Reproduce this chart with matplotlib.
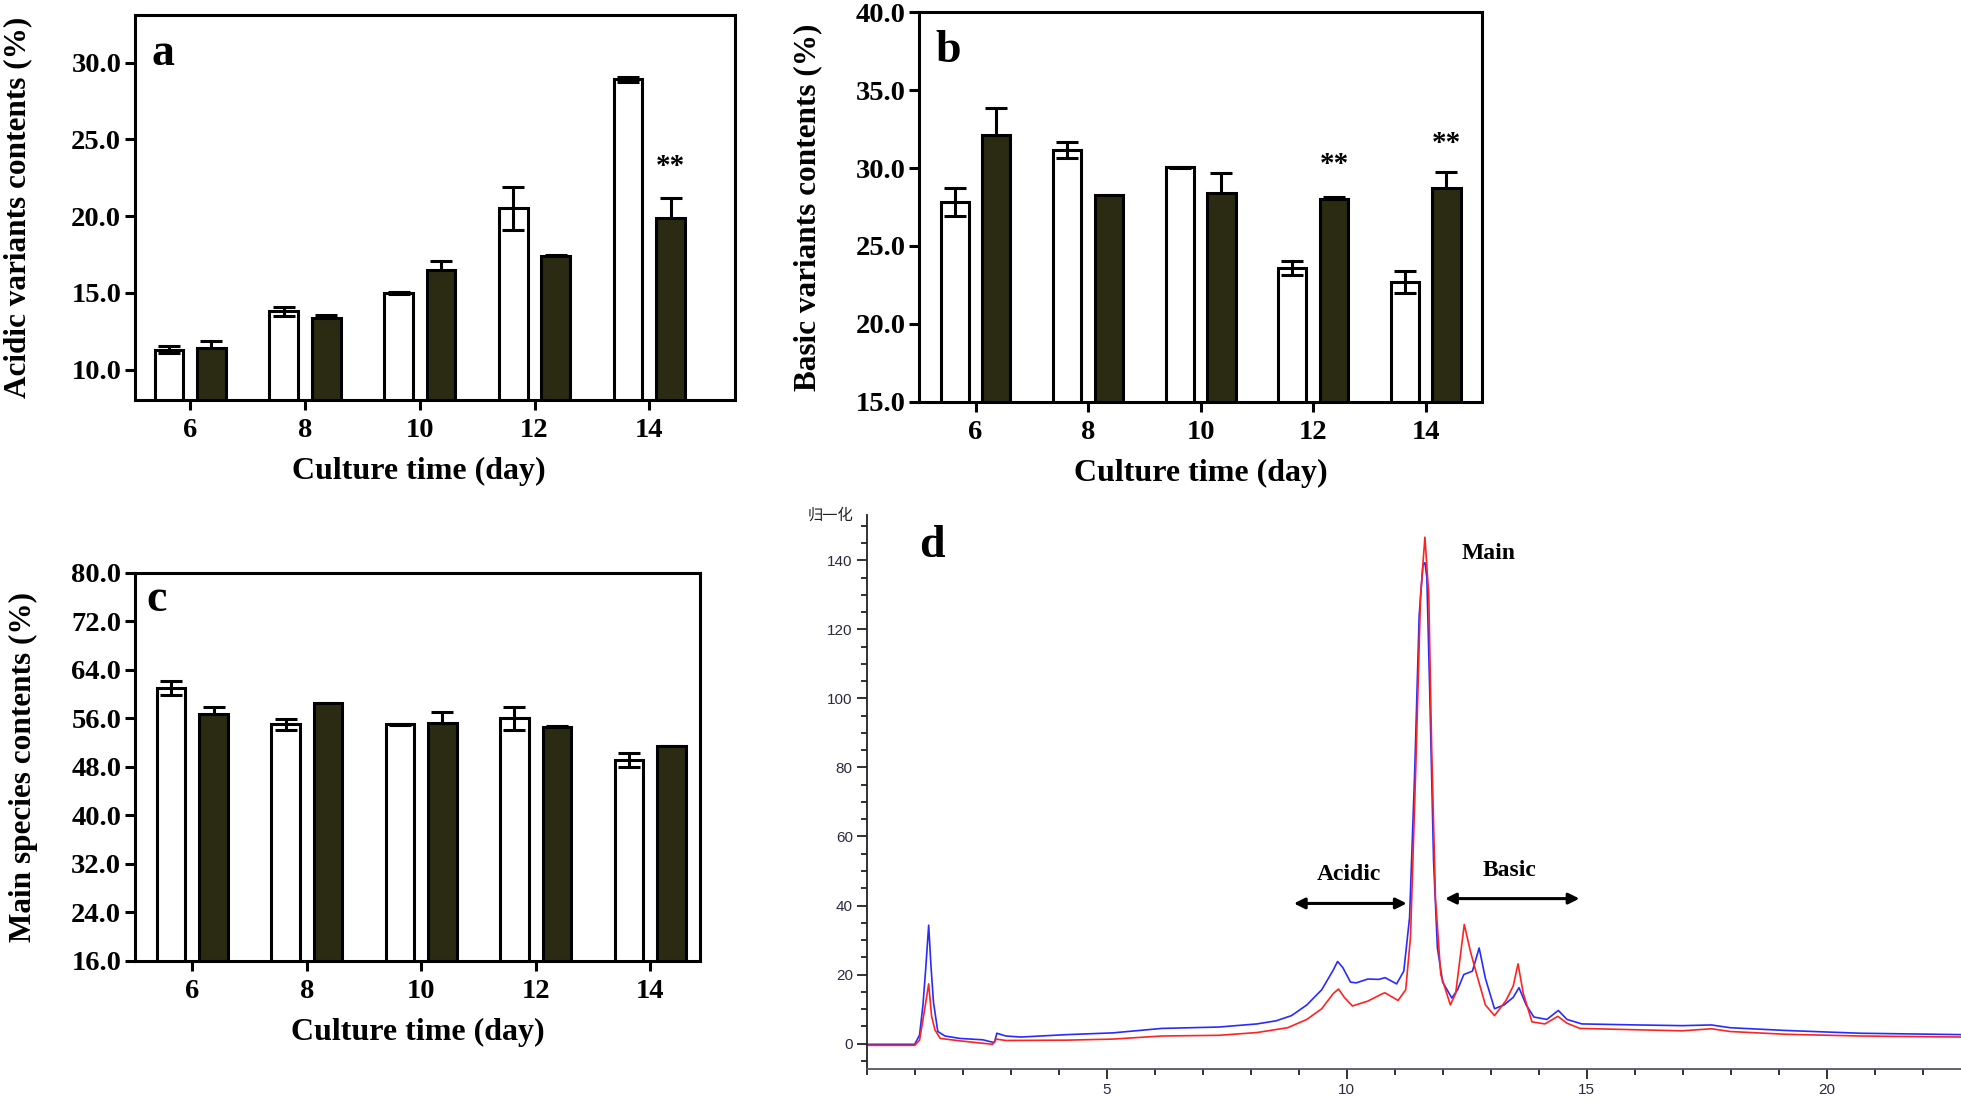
import numpy as np
import matplotlib.pyplot as plt
from matplotlib.ticker import MultipleLocator, FixedLocator

# Bar data
days = ["6", "8", "10", "12", "14"]

acidic_ctrl = [11.3, 13.8, 15.0, 20.5, 28.9]
acidic_ctrl_err = [0.25, 0.28, 0.05, 1.4, 0.15]
acidic_trt = [11.4, 13.35, 16.5, 17.4, 19.9]
acidic_trt_err = [0.43, 0.2, 0.6, 0.05, 1.25]

basic_ctrl = [27.8, 31.15, 30.05, 23.6, 22.7]
basic_ctrl_err = [0.9, 0.53, 0.05, 0.45, 0.7]
basic_trt = [32.1, 28.25, 28.4, 28.0, 28.75]
basic_trt_err = [1.75, 0.05, 1.3, 0.15, 1.0]

main_ctrl = [61.0, 55.0, 55.0, 56.0, 49.1]
main_ctrl_err = [1.1, 0.9, 0.05, 1.9, 1.1]
main_trt = [56.7, 58.5, 55.2, 54.6, 51.4]
main_trt_err = [1.2, 0.1, 1.9, 0.1, 0.1]

# significance marks: (day index, y)
acidic_stars = [(4, 23.2)]
basic_stars = [(3, 30.2), (4, 31.6)]

# Chromatogram traces (time in min, normalized signal)
blue_t = [0, 1.0, 1.1, 1.17, 1.23, 1.29, 1.34, 1.39, 1.48, 1.63,
          1.94, 2.42, 2.62, 2.66, 2.71, 2.9, 3.21, 4.17, 5.12, 6.15,
          7.34, 8.13, 8.53, 8.85, 9.17, 9.48, 9.72, 9.81, 9.92, 10.08,
          10.2, 10.44, 10.67, 10.8, 11.04, 11.19, 11.31, 11.42, 11.51, 11.59,
          11.63, 11.67, 11.73, 11.81, 11.89, 12.0, 12.19, 12.31, 12.44, 12.62,
          12.76, 12.89, 13.08, 13.28, 13.47, 13.59, 13.74, 13.9, 14.17, 14.41,
          14.59, 14.9, 16.06, 16.99, 17.6, 17.99, 19.15, 20.7, 22.8]
blue_v = [-0.2, -0.2, 2.5, 11, 22, 34.3, 22, 12, 3.5, 2.2,
          1.5, 1.1, 0.4, 0.3, 3.0, 2.2, 1.9, 2.6, 3.1, 4.4,
          4.8, 5.7, 6.6, 8.1, 11.2, 15.6, 21.3, 23.8, 22, 17.8,
          17.6, 18.7, 18.6, 19.1, 17.3, 21, 36.5, 80, 124, 138.7,
          139.3, 135, 102, 53, 27.7, 17.8, 13.2, 15.6, 20, 21,
          27.7, 18.9, 10.1, 11.2, 13.4, 16.2, 11.2, 7.7, 7.0, 9.6,
          7.0, 5.7, 5.4, 5.2, 5.4, 4.6, 3.8, 3.0, 2.6]

red_t = [0, 1.0, 1.1, 1.17, 1.23, 1.29, 1.35, 1.42, 1.53, 1.94,
         2.62, 2.7, 2.9, 4.17, 5.12, 6.15, 7.34, 8.13, 8.77, 9.17,
         9.48, 9.72, 9.83, 9.95, 10.12, 10.44, 10.75, 10.8, 11.07, 11.23,
         11.33, 11.44, 11.54, 11.63, 11.71, 11.77, 11.85, 11.96, 12.16, 12.27,
         12.45, 12.58, 12.72, 12.89, 13.08, 13.32, 13.47, 13.57, 13.68, 13.86,
         14.13, 14.4, 14.59, 14.86, 16.06, 16.99, 17.6, 17.99, 19.15, 20.7,
         22.8]
red_v = [-0.5, -0.5, 1.0, 6.8, 12, 17.3, 8, 4, 1.5, 0.8,
         -0.2, 1.3, 0.9, 1.0, 1.3, 2.2, 2.4, 3.2, 4.6, 7,
         10.1, 14.5, 15.8, 13.4, 10.9, 12.3, 14.5, 14.7, 12.5, 15.6,
         31, 80, 130, 146.7, 130, 86, 42, 20, 11.2, 14.5,
         34.5, 26.6, 19.5, 11.2, 8.1, 12.5, 16.7, 23.1, 14.5, 6.3,
         5.7, 7.9, 5.9, 4.4, 4.0, 3.7, 4.3, 3.5, 2.7, 2.2,
         1.9]

SERIF = "Liberation Serif"
DARK = "#2b2a12"
BAR_W = 0.25
OFF = 0.185


def bar_panel(ax, ctrl, ctrl_err, trt, trt_err, ylim, yticks, ylabel, letter,
              letter_xy, xlim, stars, xlabel_x=0.5):
    x = np.arange(len(days))
    # white bars, error bars drawn on top
    ax.bar(x - OFF, ctrl, BAR_W, color="white", edgecolor="black",
           linewidth=2.2, zorder=2)
    ax.errorbar(x - OFF, ctrl, yerr=ctrl_err, fmt="none", ecolor="black",
                elinewidth=2.2, capsize=8, capthick=2.2, zorder=3)
    # dark bars, lower half of error bar hidden behind the bar
    ax.errorbar(x + OFF, trt, yerr=trt_err, fmt="none", ecolor="black",
                elinewidth=2.2, capsize=8, capthick=2.2, zorder=1)
    ax.bar(x + OFF, trt, BAR_W, color=DARK, edgecolor="black",
           linewidth=2.2, zorder=2)

    for i, y in stars:
        ax.text(x[i] + OFF, y, "**", ha="center", va="center",
                fontsize=21, fontweight="bold", family=SERIF)

    ax.set_ylim(*ylim)
    ax.set_xlim(*xlim)
    ax.set_yticks(yticks)
    ax.set_yticklabels([f"{t:.1f}" for t in yticks])
    ax.set_xticks(x)
    ax.set_xticklabels(days)
    for lab in ax.get_xticklabels() + ax.get_yticklabels():
        lab.set_fontfamily(SERIF)
        lab.set_fontweight("bold")
        lab.set_fontsize(20.5)
    ax.tick_params(direction="out", length=7, width=2.2, pad=3)
    ax.tick_params(axis="x", pad=6)
    for s in ax.spines.values():
        s.set_linewidth(2.2)

    ax.set_ylabel(ylabel, fontsize=22.5, fontweight="bold", family=SERIF)
    ax.yaxis.set_label_coords(-0.172, 0.5)
    ax.set_xlabel("Culture time (day)", fontsize=23, fontweight="bold",
                  family=SERIF)
    ax.xaxis.set_label_coords(xlabel_x, -0.148)
    ax.text(letter_xy[0], letter_xy[1], letter, transform=ax.transAxes,
            ha="left", va="center", fontsize=33, fontweight="bold",
            family=SERIF)


fig = plt.figure(figsize=(19.61, 11.02), dpi=100)

ax_a = fig.add_axes([0.0689, 0.6368, 0.3061, 0.3496])
bar_panel(ax_a, acidic_ctrl, acidic_ctrl_err, acidic_trt, acidic_trt_err,
          (8, 33.1), [10, 15, 20, 25, 30], "Acidic variants contents (%)",
          "a", (0.028, 0.9), (-0.48, 4.75), acidic_stars, xlabel_x=0.473)

ax_b = fig.add_axes([0.4688, 0.6356, 0.2869, 0.3531])
bar_panel(ax_b, basic_ctrl, basic_ctrl_err, basic_trt, basic_trt_err,
          (15, 40), [15, 20, 25, 30, 35, 40], "Basic variants contents (%)",
          "b", (0.028, 0.9), (-0.5, 4.5), basic_stars)

ax_c = fig.add_axes([0.0689, 0.1283, 0.2883, 0.3518])
bar_panel(ax_c, main_ctrl, main_ctrl_err, main_trt, main_trt_err,
          (16, 80), [16, 24, 32, 40, 48, 56, 64, 72, 80],
          "Main species contents (%)", "c", (0.02, 0.93), (-0.5, 4.44), [])

# Panel d: chromatogram
ax_d = fig.add_axes([0.442, 0.0295, 0.558, 0.5028])
ax_d.plot(blue_t, blue_v, color="#2a2aff", linewidth=1.2)
ax_d.plot(red_t, red_v, color="#ff2222", linewidth=1.2)
ax_d.set_xlim(0, 22.8)
ax_d.set_ylim(-7.5, 153)
ax_d.spines["top"].set_visible(False)
ax_d.spines["right"].set_visible(False)
ax_d.spines["left"].set_color("#222222")
ax_d.spines["bottom"].set_color("#55556a")
ax_d.spines["left"].set_linewidth(1.3)
ax_d.spines["bottom"].set_linewidth(1.3)
ax_d.xaxis.set_major_locator(FixedLocator([5, 10, 15, 20]))
ax_d.xaxis.set_minor_locator(MultipleLocator(1))
ax_d.yaxis.set_major_locator(FixedLocator([0, 20, 40, 60, 80, 100, 120, 140]))
ax_d.yaxis.set_minor_locator(MultipleLocator(5))
ax_d.tick_params(which="major", length=7, width=1.3, color="#222222",
                 labelsize=11, labelcolor="#2a2a40", pad=3)
ax_d.tick_params(which="minor", length=4, width=1.3, color="#222222")
for lab in ax_d.get_xticklabels() + ax_d.get_yticklabels():
    lab.set_fontfamily("Liberation Sans")

ax_d.text(-0.012, 1.0, "归一化", transform=ax_d.transAxes, ha="right",
          va="center", fontsize=11, family=["Noto Sans CJK SC", "DejaVu Sans"],
          color="#222222")
ax_d.text(0.048, 0.945, "d", transform=ax_d.transAxes, ha="left", va="center",
          fontsize=33, fontweight="bold", family=SERIF)

ax_d.text(12.4, 142, "Main", ha="left", va="center", fontsize=17,
          fontweight="bold", family=SERIF)
ax_d.text(10.05, 49, "Acidic", ha="center", va="center", fontsize=17,
          fontweight="bold", family=SERIF)
ax_d.text(13.4, 50, "Basic", ha="center", va="center", fontsize=17,
          fontweight="bold", family=SERIF)
arrow = dict(arrowstyle="<|-|>", color="black", lw=2.2, mutation_scale=16,
             shrinkA=0, shrinkB=0)
ax_d.annotate("", xy=(8.9, 40.6), xytext=(11.25, 40.6), arrowprops=arrow)
ax_d.annotate("", xy=(12.05, 42), xytext=(14.85, 42), arrowprops=arrow)

fig.savefig("out.png", dpi=100)
